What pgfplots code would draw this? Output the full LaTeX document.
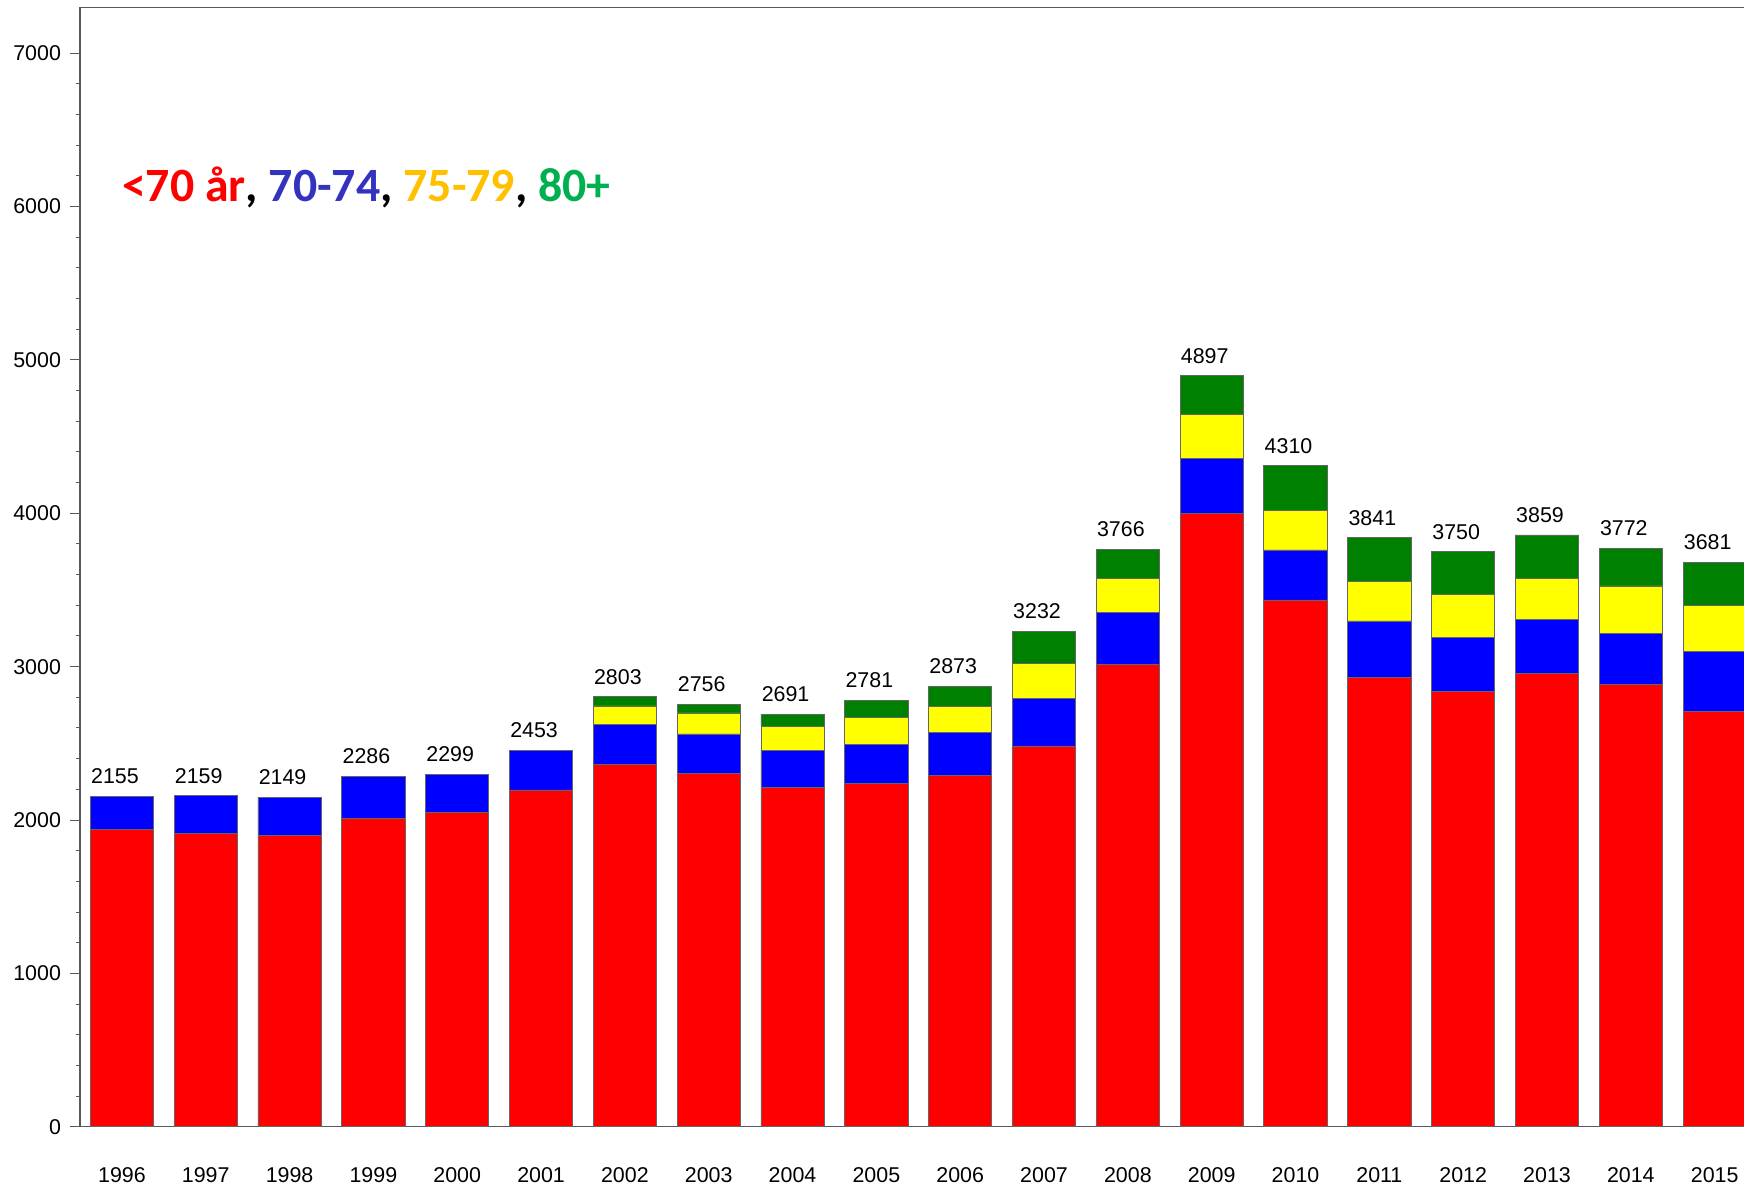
\documentclass[border=0pt]{standalone}
\usepackage{pgfplots}
\pgfplotsset{compat=1.18}
\usepackage{pgfplotstable}
\usepackage{fontspec}
\setmainfont{Liberation Sans}
\newfontfamily\calibri{Carlito}
\definecolor{bred}{RGB}{255,0,0}
\definecolor{bblue}{RGB}{0,0,255}
\definecolor{byellow}{RGB}{255,255,0}
\definecolor{bgreen}{RGB}{0,128,0}
\definecolor{legblue}{RGB}{51,51,191}
\definecolor{leggold}{RGB}{255,192,0}
\definecolor{leggreen}{RGB}{0,176,80}
\pgfplotstableread{
x red blue yellow green total
0 1940 215 0 0 2155
1 1911 248 0 0 2159
2 1900 249 0 0 2149
3 2011 275 0 0 2286
4 2048 251 0 0 2299
5 2196 257 0 0 2453
6 2364 260 120 59 2803
7 2305 256 137 58 2756
8 2211 244 156 80 2691
9 2240 251 179 111 2781
10 2289 283 167 134 2873
11 2483 311 224 214 3232
12 3016 336 222 192 3766
13 4002 357 283 255 4897
14 3435 326 257 292 4310
15 2928 370 255 288 3841
16 2837 355 276 282 3750
17 2957 352 265 285 3859
18 2885 333 308 246 3772
19 2707 395 300 279 3681
}\data
\pgfplotsset{common/.style={
  scale only axis,
  width=832pt, height=559.7pt,
  xmin=-0.5, xmax=19.35,
  ymin=0, ymax=7300,
  enlargelimits=false,
}}
\begin{document}
\begin{tikzpicture}
\begin{axis}[
  common,
  name=ax,
  ybar stacked,
  bar width=31.65pt,
  axis lines*=left,
  axis line style={draw=black!65, line width=0.6pt},
  xtick={0,...,19},
  xticklabels={1996,1997,1998,1999,2000,2001,2002,2003,2004,2005,2006,2007,2008,2009,2010,2011,2012,2013,2014,2015},
  major x tick style={draw=none},
  ytick={0,1000,2000,3000,4000,5000,6000,7000},
  minor y tick num=4,
  tick align=outside,
  major tick length=5pt,
  minor tick length=2pt,
  y tick style={draw=black!65, line width=0.5pt},
  /pgf/number format/1000 sep={},
  /pgf/number format/assume math mode=true,
  ticklabel style={font=\fontsize{10.7}{12}\selectfont, text=black},
  xticklabel style={yshift=-12pt},
  yticklabel style={xshift=-1pt},
]
\addplot[fill=bred, draw=black!60, line width=0.4pt] table[x=x, y=red] {\data};
\addplot[fill=bblue, draw=black!60, line width=0.4pt] table[x=x, y=blue] {\data};
\addplot[fill=byellow, draw=black!60, line width=0.4pt] table[x=x, y=yellow] {\data};
\addplot[fill=bgreen, draw=black!60, line width=0.4pt] table[x=x, y=green] {\data};
\draw[draw=black!65, line width=0.6pt] (rel axis cs:0,1) -- (rel axis cs:1,1);
\node[anchor=base west, inner sep=0pt, font=\calibri\bfseries\fontsize{23.9}{28}\selectfont] at (rel axis cs:0.02506,0.8263)
  {\textcolor{bred}{<70 år}, \textcolor{legblue}{70-74}, \textcolor{leggold}{75-79}, \textcolor{leggreen}{80+}};
\end{axis}
\begin{axis}[
  common,
  hide axis,
  clip=false,
]
\addplot[draw=none, mark=none,
  nodes near coords={\pgfmathprintnumber[1000 sep={}, assume math mode=true]{\pgfplotspointmeta}},
  point meta=explicit,
  every node near coord/.append style={anchor=base, yshift=6.3pt, xshift=-3.5pt, inner sep=0pt, text=black, font=\fontsize{10.7}{12}\selectfont}
] table[x=x, y=total, meta=total] {\data};
\end{axis}
\pgfresetboundingbox
\useasboundingbox ([shift={(-40pt,-29.15pt)}]ax.south west) rectangle ([shift={(0pt,3.65pt)}]ax.north east);
\end{tikzpicture}
\end{document}
